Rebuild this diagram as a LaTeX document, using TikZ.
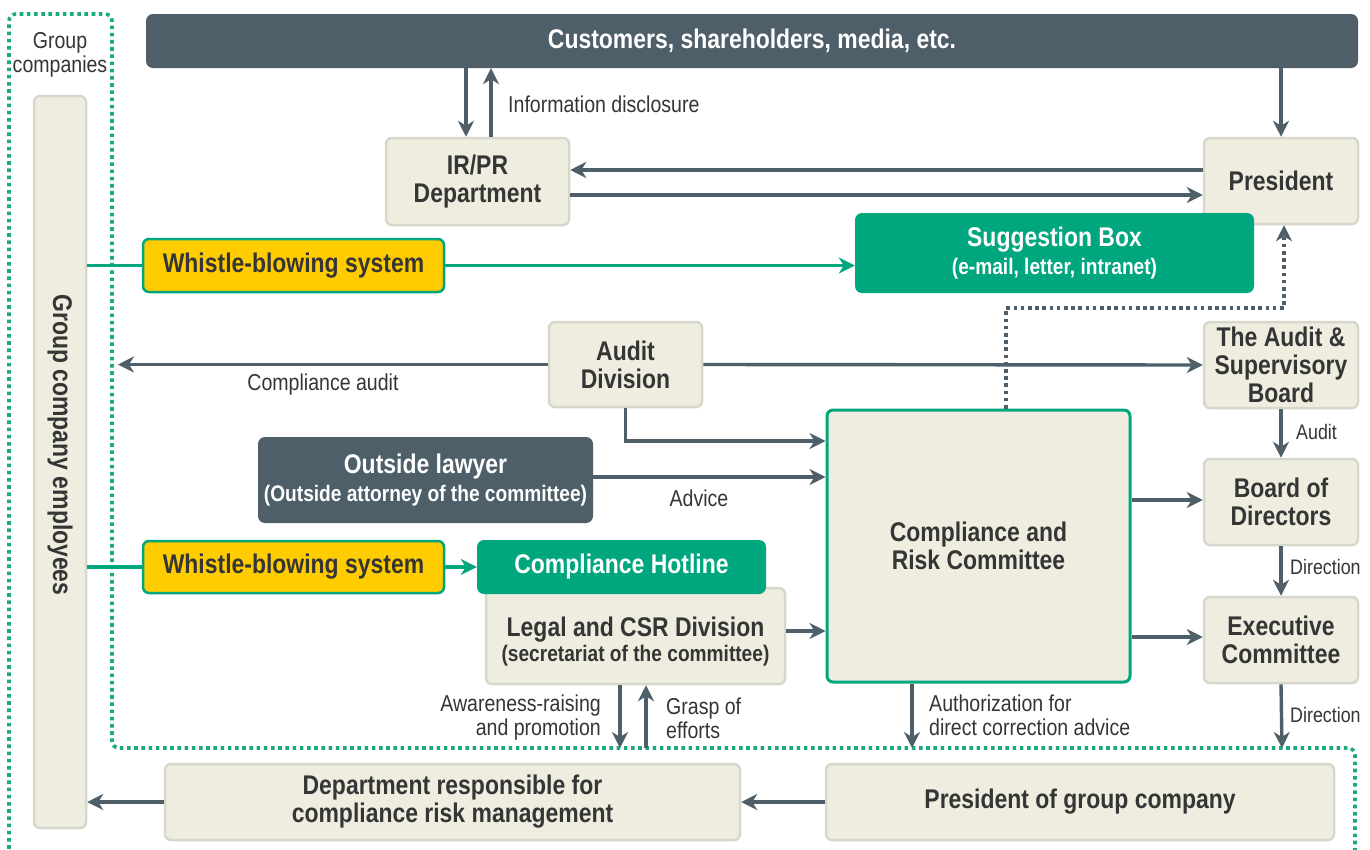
\documentclass[tikz,border=0pt]{standalone}
\usepackage{fontspec}
\setmainfont{Liberation Sans}[FakeStretch=0.85]
\usetikzlibrary{arrows.meta}

\definecolor{slate}{HTML}{4E5F6A}
\definecolor{beige}{HTML}{EEEDE0}
\definecolor{beigeline}{HTML}{D7D7CC}
\definecolor{grn}{HTML}{00A67E}
\definecolor{grndot}{HTML}{1BAA80}
\definecolor{yel}{HTML}{FFCC00}
\definecolor{ink}{HTML}{353535}

\newcommand\fTitle{\bfseries\fontsize{27}{28}\selectfont}
\newcommand\fSub{\bfseries\fontsize{22.5}{25}\selectfont}
\newcommand\fLab{\fontsize{23}{24}\selectfont}
\newcommand\fSmall{\fontsize{21}{22}\selectfont}

\tikzset{
  box/.style={draw=beigeline, line width=2.5pt, fill=beige, rounded corners=6pt,
    text=ink, font=\fTitle, align=center, inner sep=0pt},
  darkbox/.style={fill=slate, rounded corners=7pt, text=white, font=\fTitle,
    align=center, inner sep=0pt},
  greenbox/.style={fill=grn, rounded corners=7pt, text=white, font=\fTitle,
    align=center, inner sep=0pt},
  yelbox/.style={draw=grn, line width=2.5pt, fill=yel, rounded corners=6pt,
    text=ink, font=\fTitle, align=center, inner sep=0pt},
  tip/.style={-{Stealth[length=16pt,width=16pt,inset=5pt]}},
  arr/.style={draw=slate, line width=3.4pt, tip},
  garr/.style={draw=grn, line width=3.2pt, tip},
  gline/.style={draw=grn, line width=3.2pt},
  dotline/.style={draw=slate, line width=3.6pt, dash pattern=on 3.6pt off 3.6pt, tip},
  gborder/.style={draw=grndot, line width=3.6pt, dash pattern=on 3.6pt off 3.6pt},
  lab/.style={text=ink, font=\fLab, inner sep=0pt},
  slab/.style={text=ink, font=\fSmall, inner sep=0pt},
}

\begin{document}
\begin{tikzpicture}[x=1pt,y=-1pt]
\useasboundingbox[fill=white] (0,0) rectangle (1370,849);

% group companies boundary
\draw[gborder, rounded corners=7pt] (9,856) -- (9,14) -- (112,14) -- (112,748)
  -- (1355,748) -- (1355,856);
\node[lab, align=center] (grp) at (60,55) {Group\\companies};

% boxes
\node[darkbox, minimum width=1212pt, minimum height=54pt] (cust) at (752,41)
  {Customers, shareholders, media, etc.};
\node[box, minimum width=183pt, minimum height=87pt] (irpr) at (477.5,181.5)
  {IR/PR\\Department};
\node[box, minimum width=154pt, minimum height=86pt] (pres) at (1281,181) {President};
\node[greenbox, minimum width=399pt, minimum height=80pt] (sugg) at (1054.5,253)
  {Suggestion Box\\[0pt]{\fSub(e-mail, letter, intranet)}};
\node[yelbox, minimum width=301pt, minimum height=53pt] (wb1) at (293.5,265.5)
  {Whistle-blowing system};
\node[box, minimum width=52pt, minimum height=732pt] (emp) at (60,462) {};
\node[text=ink, font=\fTitle, rotate=-90, inner sep=0pt] (empt) at (60,445)
  {Group company employees};
\node[box, minimum width=153pt, minimum height=85pt] (audit) at (625.5,364.5)
  {Audit\\Division};
\node[box, minimum width=154pt, minimum height=86pt] (asb) at (1281,365)
  {The Audit \&\\Supervisory\\Board};
\node[box, draw=grn, line width=3pt, minimum width=303pt, minimum height=272pt] (crc)
  at (978.5,546) {Compliance and\\Risk Committee};
\node[darkbox, minimum width=335pt, minimum height=86pt] (law) at (425.5,480)
  {Outside lawyer\\[0pt]{\fSub(Outside attorney of the committee)}};
\node[yelbox, minimum width=301pt, minimum height=52pt] (wb2) at (293.5,567)
  {Whistle-blowing system};
\node[box, minimum width=299pt, minimum height=96pt] (legal) at (635.5,636) {};
\node[text=ink, align=center, inner sep=0pt] (legalt) at (635.5,642)
  {{\fTitle Legal and CSR Division}\\[2pt]{\fSub(secretariat of the committee)}};
\node[greenbox, minimum width=289pt, minimum height=54pt] (hot) at (621.5,567)
  {Compliance Hotline};
\node[box, minimum width=154pt, minimum height=86pt] (bod) at (1281,502)
  {Board of\\Directors};
\node[box, minimum width=154pt, minimum height=86pt] (exe) at (1281,640)
  {Executive\\Committee};
\node[box, minimum width=575pt, minimum height=76pt] (dept) at (452.5,802)
  {Department responsible for\\compliance risk management};
\node[box, minimum width=508pt, minimum height=76pt] (pgc) at (1080,802)
  {President of group company};

% free ends of connectors
\coordinate (auditL) at (118,364.5);
\coordinate (crcEnd) at (912,748);
\coordinate (exeEnd) at (1282,748);
\coordinate (awEnd) at (620,748);
\coordinate (grStart) at (646,748);

% disclosure between customers and IR/PR
\draw[arr] (466,0 |- cust.south) -- (466,0 |- irpr.north);
\draw[arr] (491,0 |- irpr.north) -- (491,0 |- cust.south);
\node[lab, anchor=west] (infolab) at (508,104) {Information disclosure};

% IR/PR and President
\draw[arr] (pres.west |- 0,170) -- (irpr.east |- 0,170);
\draw[arr] (irpr.east |- 0,195) -- (pres.west |- 0,195);
\draw[arr] (pres.north |- cust.south) -- (pres.north);

% whistle-blowing lines
\draw[gline] (emp.east |- wb1.west) -- (wb1.west);
\draw[garr] (wb1.east) -- (sugg.west |- wb1.east);
\draw[gline] (emp.east |- wb2.west) -- (wb2.west);
\draw[garr] (wb2.east) -- (hot.west |- wb2.east);

% audit division
\draw[arr] (audit.west) -- (auditL);
\node[lab] (calab) at (323,385) {Compliance audit};
\draw[arr] (audit.east) -- (asb.west);
\draw[arr] (audit.south) |- (crc.west |- 0,441);

% committee reports to the president
\draw[dotline] (crc.north -| 1006,0) -- (1006,308) -- (1284,308) -- (pres.south -| 1284,0);

% advice and secretariat
\draw[arr] (law.east |- 0,477) -- (crc.west |- 0,477);
\node[lab] (advlab) at (699,498) {Advice};
\draw[arr] (legal.east |- 0,631) -- (crc.west |- 0,631);

% committee to the board
\draw[arr] (crc.east |- 0,500) -- (bod.west |- 0,500);
\draw[arr] (crc.east |- 0,637) -- (exe.west |- 0,637);

% right-hand chain
\draw[arr] (asb.south) -- (bod.north);
\node[slab, anchor=west] (audlab) at (1296,432) {Audit};
\draw[arr] (bod.south) -- (exe.north);
\node[slab, anchor=west] (dirlab1) at (1290,567) {Direction};
\draw[arr] (exe.south) -- (exeEnd);
\node[slab, anchor=west] (dirlab2) at (1290,715) {Direction};

% down to the group companies
\draw[arr] (crc.south -| crcEnd) -- (crcEnd);
\node[lab, anchor=west, align=left] (authlab) at (929,715)
  {Authorization for\\direct correction advice};
\draw[arr] (legal.south -| awEnd) -- (awEnd);
\node[lab, anchor=east, align=right] (awlab) at (601,718)
  {Awareness-raising\\and promotion};
\draw[arr] (grStart) -- (legal.south -| grStart);
\node[lab, anchor=west, align=left] (grlab) at (666,718) {Grasp of\\efforts};

% within the group company
\draw[arr] (pgc.west) -- (dept.east);
\draw[arr] (dept.west) -- (emp.east |- dept.west);
\end{tikzpicture}
\end{document}
